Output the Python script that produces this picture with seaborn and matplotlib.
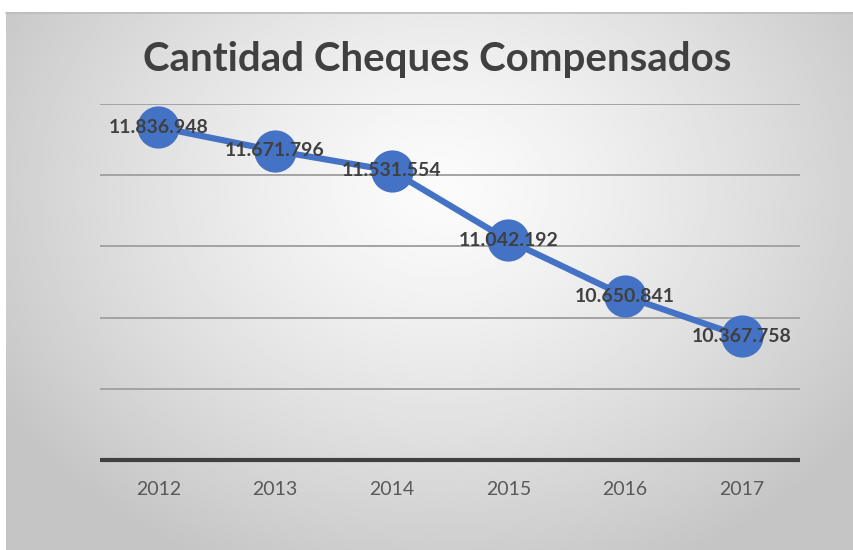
import matplotlib
matplotlib.use('Agg')
import matplotlib.pyplot as plt
import seaborn as sns
import pandas as pd
import numpy as np

# Datos del gráfico
anios = ["2012", "2013", "2014", "2015", "2016", "2017"]
cheques = [11836948, 11671796, 11531554, 11042192, 10650841, 10367758]
etiquetas = ["11.836.948", "11.671.796", "11.531.554", "11.042.192", "10.650.841", "10.367.758"]
titulo = "Cantidad Cheques Compensados"

df = pd.DataFrame({"anio": anios, "cheques": cheques})

sns.set_style("white")
plt.rcParams['font.family'] = ['Lato', 'DejaVu Sans']

W, H = 854, 550
fig = plt.figure(figsize=(W / 100, H / 100), dpi=100)
fig.patch.set_facecolor("white")

# --- Fondo con degradado radial (estilo Excel) ---
ax_bg = fig.add_axes([0, 0, 1, 1], zorder=0)
ax_bg.set_xlim(0, W)
ax_bg.set_ylim(H, 0)
ax_bg.axis("off")
xx, yy = np.meshgrid(np.linspace(6, W, 400), np.linspace(12, H, 260))
r = np.sqrt(((xx - 440) / 520) ** 2 + ((yy - 190) / 420) ** 2)
r = np.clip(r, 0, 1)
claro, oscuro = 0.985, 0.77
grad = claro - (claro - oscuro) * r ** 1.3
ax_bg.imshow(grad, cmap="gray", vmin=0, vmax=1, extent=(6, W, H, 12),
             aspect="auto", interpolation="bilinear")
ax_bg.plot([6, W], [12.5, 12.5], color="#bcbcbc", lw=1.2)

# --- Gráfico principal ---
ax = fig.add_axes([100 / W, 1 - 460 / H, 700 / W, (460 - 104) / H], zorder=1)
ax.patch.set_alpha(0)

ax.set_ylim(9500000, 12000000)
ax.set_yticks([10000000, 10500000, 11000000, 11500000, 12000000])
ax.yaxis.grid(True, color="#a3a3a3", linewidth=1.4)
ax.set_axisbelow(True)

sns.pointplot(data=df, x="anio", y="cheques", color="#4472C4", errorbar=None,
              markersize=27, linewidth=4.5, ax=ax, zorder=3)

for i, (v, t) in enumerate(zip(cheques, etiquetas)):
    ax.text(i, v, t, ha="center", va="center", fontsize=14, fontweight="bold",
            color="#404040", zorder=5)

ax.set_xlim(-0.5, len(anios) - 0.5)
ax.set_xlabel("")
ax.set_ylabel("")
ax.set_yticklabels([])
ax.tick_params(axis="y", length=0)
ax.tick_params(axis="x", length=0, pad=15, labelsize=14, labelcolor="#595959")

for s in ["top", "right", "left"]:
    ax.spines[s].set_visible(False)
ax.spines["bottom"].set_color("#404040")
ax.spines["bottom"].set_linewidth(3)
ax.spines["bottom"].set_capstyle("butt")

fig.text(437 / W, 1 - 59 / H, titulo, ha="center", va="center",
         fontsize=29, fontweight="bold", color="#404040")

plt.savefig("out.png", dpi=100)
